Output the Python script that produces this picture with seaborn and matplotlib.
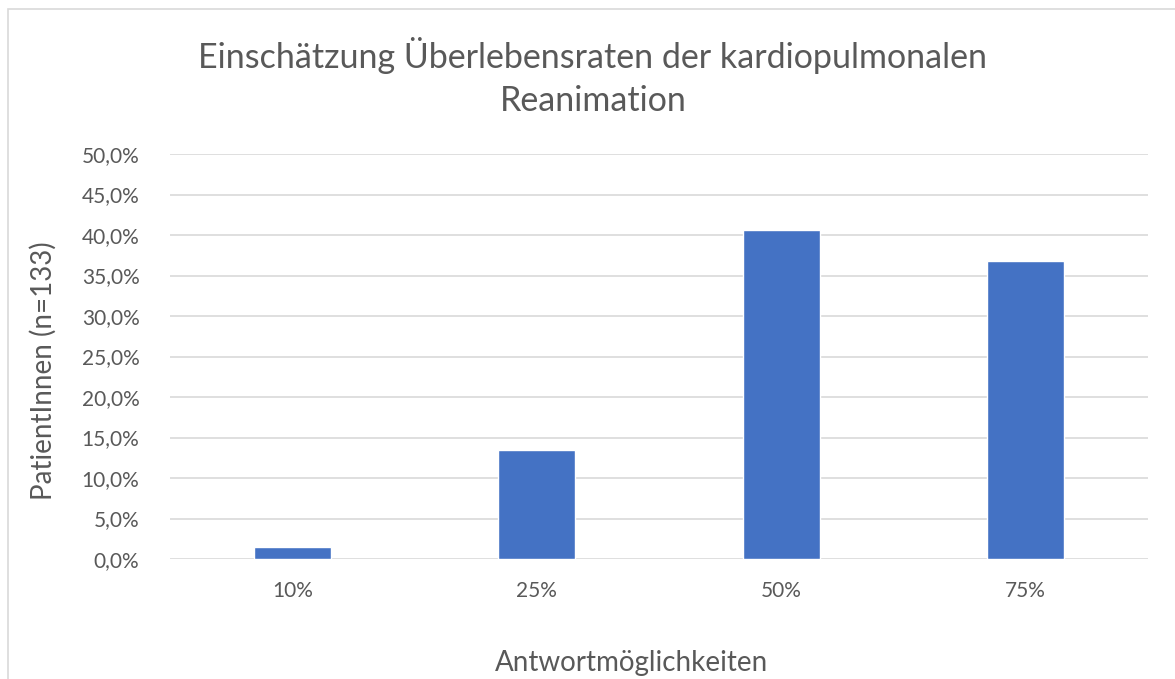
import matplotlib
matplotlib.use('Agg')
import matplotlib.pyplot as plt
import matplotlib.patches as mpatches
from matplotlib.ticker import FuncFormatter
import seaborn as sns
import pandas as pd

# Chart data
categories = ["10%", "25%", "50%", "75%"]
shares = [0.015, 0.135, 0.406, 0.368]
title = "Einschätzung Überlebensraten der kardiopulmonalen\nReanimation"

TEXT = "#595959"
GRID = "#d9d9d9"
BAR = "#4472C4"

sns.set_theme(style="white")
plt.rcParams['font.family'] = ['Lato', 'DejaVu Sans']

df = pd.DataFrame({"answer": categories, "share": shares})

fig = plt.figure(figsize=(11.75, 6.79), dpi=100)
# light chart frame like the office export
fig.patches.append(mpatches.Rectangle((8 / 1175, -0.05), 1.2, 1 - 9 / 679 + 0.05,
                                      transform=fig.transFigure, fill=False,
                                      edgecolor=GRID, linewidth=1.2))

ax = fig.add_axes([170 / 1175, 1 - 559 / 679, (1148 - 170) / 1175, (559 - 154) / 679])
sns.barplot(data=df, x="answer", y="share", color=BAR, width=0.315,
            saturation=1, ax=ax)

ax.set_ylim(0, 0.5)
ax.set_yticks([i * 0.05 for i in range(11)])
ax.yaxis.set_major_formatter(FuncFormatter(lambda v, _: f"{v * 100:.1f}%".replace(".", ",")))
ax.grid(axis="y", color=GRID, linewidth=1.2)
ax.set_axisbelow(True)
for s in ax.spines.values():
    s.set_visible(False)
ax.tick_params(axis="both", length=0, labelsize=15, labelcolor=TEXT)
ax.tick_params(axis="y", pad=22)
ax.tick_params(axis="x", pad=16)
ax.set_xlabel("")
ax.set_ylabel("")

fig.text(632 / 1175, 1 - 663 / 679, "Antwortmöglichkeiten", ha="center", va="center",
         fontsize=20, color=TEXT)
fig.text(43 / 1175, 1 - 371 / 679, "PatientInnen (n=133)", ha="center", va="center",
         rotation=90, fontsize=20, color=TEXT)
fig.text(593 / 1175, 1 - 77 / 679, title, ha="center", va="center",
         fontsize=24.5, color=TEXT, linespacing=1.4)

fig.savefig("out.png", dpi=100)
